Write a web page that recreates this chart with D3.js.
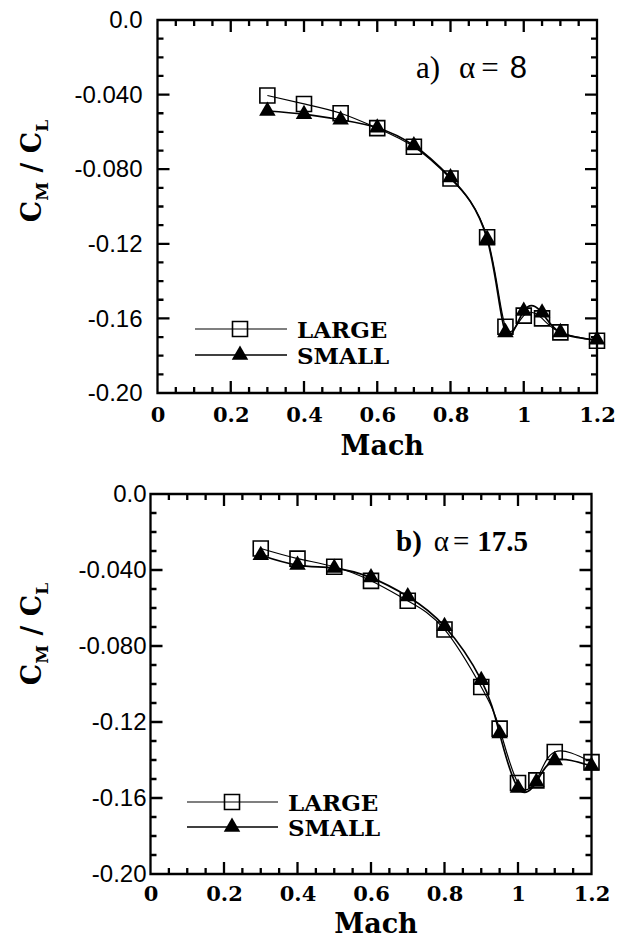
<!DOCTYPE html>
<html>
<head>
<meta charset="utf-8">
<script src="https://cdn.jsdelivr.net/npm/d3@7"></script>
<style>
  html, body { margin: 0; padding: 0; background: #fff; }
  svg { display: block; }
</style>
</head>
<body>
<svg id="chart" width="618" height="938"></svg>
<script>
// Mach numbers at which both configurations were measured
const mach = [0.3, 0.4, 0.5, 0.6, 0.7, 0.8, 0.9, 0.95, 1.0, 1.05, 1.1, 1.2];

// C_M / C_L at alpha = 8
const largeAlpha8 = [-0.0405, -0.045, -0.050, -0.058, -0.068, -0.085, -0.1165, -0.1645, -0.1585, -0.160, -0.1675, -0.172];
const smallAlpha8 = [-0.0488, -0.0505, -0.0535, -0.0578, -0.0673, -0.0845, -0.1175, -0.1675, -0.156, -0.157, -0.1675, -0.1715];

// C_M / C_L at alpha = 17.5
const largeAlpha175 = [-0.0287, -0.034, -0.0383, -0.0457, -0.0562, -0.0713, -0.1016, -0.1235, -0.1521, -0.1507, -0.1358, -0.1411];
const smallAlpha175 = [-0.0322, -0.0374, -0.039, -0.044, -0.0539, -0.0696, -0.098, -0.1261, -0.1547, -0.1516, -0.1402, -0.1432];

// Axis ticks
const xTickValues = [0, 0.2, 0.4, 0.6, 0.8, 1.0, 1.2];
const xTickLabels = ["0", "0.2", "0.4", "0.6", "0.8", "1", "1.2"];
const yTickValues = [0, -0.04, -0.08, -0.12, -0.16, -0.20];
const yTickLabels = ["0.0", "-0.040", "-0.080", "-0.12", "-0.16", "-0.20"];
const xMinorTicks = d3.range(1, 24).map(i => Math.round(i * 5) / 100).filter(v => !xTickValues.some(t => Math.abs(t - v) < 1e-9));
const yMinorTicks = d3.range(1, 20).map(i => -i / 100).filter(v => !yTickValues.some(t => Math.abs(t - v) < 1e-9));

const seriesNames = ["LARGE", "SMALL"];

// Panel layout
const panels = [
  {
    tag: "a)", alpha: "8", large: largeAlpha8, small: smallAlpha8,
    left: 157.5, right: 597, top: 20, bottom: 393, yPad: 15,
    titleX: 41, titleY: 171, machY: 455, xLabPad: 14,
    note: {x: 416, y: 78, bold: false},
    legend: {x0: 195, x1: 287, mx: 240, y0: 329, y1: 355, tx: 297}
  },
  {
    tag: "b)", alpha: "17.5", large: largeAlpha175, small: smallAlpha175,
    left: 150.5, right: 591.5, top: 494, bottom: 874, yPad: 4,
    titleX: 41, titleY: 634, machY: 933, xLabPad: 12,
    note: {x: 396, y: 551, bold: true},
    legend: {x0: 187, x1: 278, mx: 232, y0: 802, y1: 827, tx: 288}
  }
];

const svg = d3.select("#chart");
const serifBold = "'DejaVu Serif', serif";
const sans = "'Liberation Sans', Arial, sans-serif";
const majorLen = 12, minorLen = 6;

const squareSym = d3.symbol(d3.symbolSquare, 225);
const triangleSym = d3.symbol(d3.symbolTriangle, 118);

panels.forEach(p => {
  const g = svg.append("g");
  const x = d3.scaleLinear().domain([0, 1.2]).range([p.left, p.right]);
  const y = d3.scaleLinear().domain([-0.2, 0]).range([p.bottom, p.top]);

  // plot frame with inward tick marks on all four sides, in one outline
  const xt = xTickValues.map(v => [v, majorLen]).concat(xMinorTicks.map(v => [v, minorLen]));
  const yt = yTickValues.map(v => [v, majorLen]).concat(yMinorTicks.map(v => [v, minorLen]));
  let frame = `M${p.left},${p.top}H${p.right}V${p.bottom}H${p.left}Z`;
  xt.forEach(([v, len]) => {
    const px = x(v).toFixed(2);
    frame += `M${px},${p.bottom}V${p.bottom - len}M${px},${p.top}V${p.top + len}`;
  });
  yt.forEach(([v, len]) => {
    const py = y(v).toFixed(2);
    frame += `M${p.left},${py}H${p.left + len}M${p.right},${py}H${p.right - len}`;
  });
  g.append("path").attr("d", frame)
    .attr("fill", "none").attr("stroke", "#000").attr("stroke-width", 2.3);

  // tick labels from the axis generators
  const bottomAx = g.append("g").attr("transform", `translate(0,${p.bottom})`)
    .call(d3.axisBottom(x).tickValues(xTickValues).tickSize(0).tickPadding(p.xLabPad)
      .tickFormat((d, i) => xTickLabels[i]));
  bottomAx.select(".domain").remove();
  bottomAx.selectAll("text").attr("fill", "#000")
    .style("font-family", serifBold).style("font-weight", "bold").style("font-size", "21px");

  const leftAx = g.append("g").attr("transform", `translate(${p.left},0)`)
    .call(d3.axisLeft(y).tickValues(yTickValues).tickSize(0).tickPadding(p.yPad)
      .tickFormat((d, i) => yTickLabels[i]));
  leftAx.select(".domain").remove();
  leftAx.selectAll("text").attr("fill", "#000")
    .style("font-family", sans).style("font-size", "24px");

  // smoothed curves
  const line = d3.line()
    .x((d, i) => x(mach[i]))
    .y(d => y(d))
    .curve(d3.curveNatural);

  g.append("path").datum(p.large).attr("d", line)
    .attr("fill", "none").attr("stroke", "#000").attr("stroke-width", 1.2);
  g.append("path").datum(p.small).attr("d", line)
    .attr("fill", "none").attr("stroke", "#000").attr("stroke-width", 1.7);

  // markers
  g.selectAll(".sq").data(p.large).join("path").attr("class", "sq")
    .attr("d", squareSym)
    .attr("transform", (d, i) => `translate(${x(mach[i])},${y(d)})`)
    .attr("fill", "none").attr("stroke", "#000").attr("stroke-width", 1.6);
  g.selectAll(".tri").data(p.small).join("path").attr("class", "tri")
    .attr("d", triangleSym)
    .attr("transform", (d, i) => `translate(${x(mach[i])},${y(d)})`)
    .attr("fill", "#000");

  // axis titles
  g.append("text")
    .attr("x", (p.left + p.right) / 2 + 5).attr("y", p.machY)
    .attr("text-anchor", "middle")
    .style("font-family", serifBold).style("font-weight", "bold").style("font-size", "27px")
    .text("Mach");

  const t = g.append("text")
    .attr("transform", `translate(${p.titleX},${p.titleY}) rotate(-90)`)
    .attr("text-anchor", "middle")
    .style("font-family", serifBold).style("font-weight", "bold").style("font-size", "27px");
  t.append("tspan").text("C");
  t.append("tspan").attr("dy", 7).style("font-size", "17px").text("M");
  t.append("tspan").attr("dy", -7).text(" / C");
  t.append("tspan").attr("dy", 7).style("font-size", "17px").text("L");

  // case annotation
  const n = g.append("text").attr("x", p.note.x).attr("y", p.note.y)
    .style("font-family", "'Liberation Serif', serif").style("font-size", p.note.bold ? "29px" : "31px");
  n.append("tspan").style("font-weight", p.note.bold ? "bold" : "normal").text(p.tag);
  n.append("tspan").attr("dx", p.note.bold ? 12 : 19).text("\u03b1");
  n.append("tspan").attr("dx", p.note.bold ? 4 : 6).text("=");
  n.append("tspan").attr("dx", p.note.bold ? 8 : 11)
    .style("font-weight", p.note.bold ? "bold" : "normal")
    .style("font-family", p.note.bold ? "'Liberation Serif', serif" : sans)
    .style("font-size", p.note.bold ? "29px" : "31px").text(p.alpha);

  // legend
  const L = p.legend;
  const lg = g.append("g");
  [L.y0, L.y1].forEach((ly, k) => {
    lg.append("path")
      .attr("d", `M${L.x0},${ly}H${L.x1}`)
      .attr("stroke", "#000").attr("stroke-width", k === 0 ? 1.2 : 1.7);
    lg.append("path")
      .attr("d", k === 0 ? squareSym : triangleSym)
      .attr("transform", `translate(${L.mx},${ly})`)
      .attr("fill", k === 0 ? "none" : "#000")
      .attr("stroke", k === 0 ? "#000" : "none").attr("stroke-width", 1.6);
    lg.append("text").attr("x", L.tx).attr("y", ly + 8.5)
      .style("font-family", serifBold).style("font-weight", "bold").style("font-size", "23px")
      .text(seriesNames[k]);
  });
});
</script>
</body>
</html>
